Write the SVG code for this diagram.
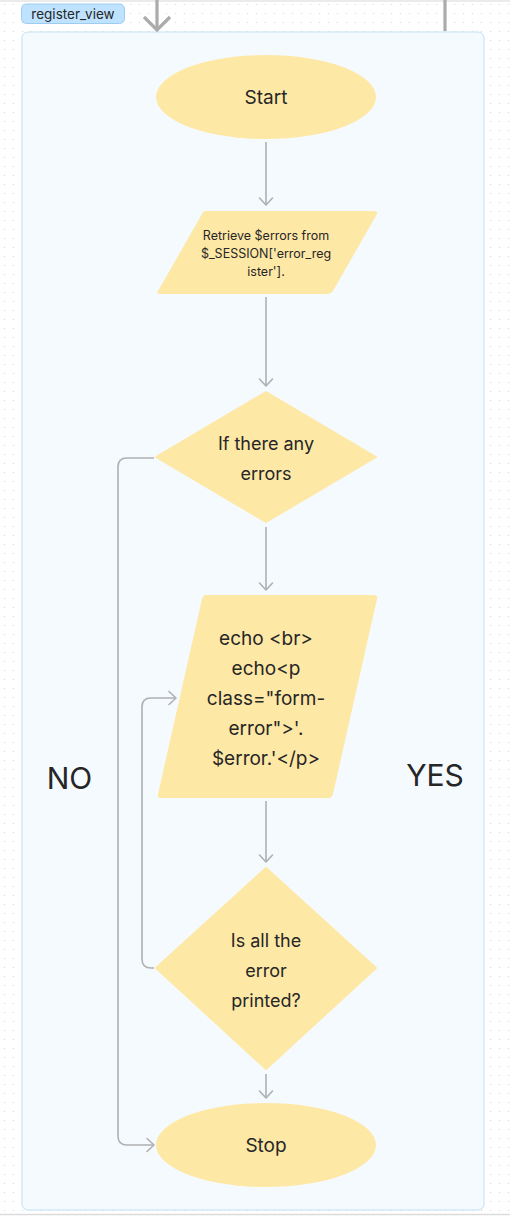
<svg xmlns="http://www.w3.org/2000/svg" width="510" height="1217" viewBox="0 0 510 1217">
<defs>
<pattern id="dots" x="0" y="0" width="9" height="9" patternUnits="userSpaceOnUse">
<circle cx="4.5" cy="4.5" r="0.8" fill="#e2e2e2"/>
</pattern>
<marker id="arr" markerUnits="userSpaceOnUse" markerWidth="18" markerHeight="18" viewBox="-9 -9 18 18" refX="0" refY="0" orient="auto">
<path d="M-7,-6.5 L0,0 L-7,6.5" fill="none" stroke="#b0b0b0" stroke-width="1.6" stroke-linecap="round" stroke-linejoin="round"/>
</marker>
<marker id="arrBig" markerUnits="userSpaceOnUse" markerWidth="34" markerHeight="34" viewBox="-17 -17 34 34" refX="0" refY="0" orient="auto">
<path d="M-13,-13 L0,0 L-13,13" fill="none" stroke="#ababab" stroke-width="3.2" stroke-linejoin="miter"/>
</marker>
</defs>
<style>
.node{fill:#fee8a6;}
.t{font-family:Inter,"Noto Sans","Liberation Sans",sans-serif;fill:#262626;text-anchor:middle;}
.conn{fill:none;stroke:#b0b0b0;stroke-width:1.6;}
</style>
<rect x="0" y="0" width="510" height="1217" fill="#ffffff"/>
<rect x="0" y="0" width="510" height="1217" fill="url(#dots)"/>
<line x1="0" y1="1" x2="510" y2="1" stroke="#e4e4e4" stroke-width="1.5"/>
<line x1="0" y1="1214.5" x2="510" y2="1214.5" stroke="#dcdcdc" stroke-width="1.5"/>

<g id="frame">
<rect x="22" y="32" width="462" height="1178" rx="6" fill="#f5faff" stroke="#bfe0f7" stroke-width="1"/>
</g>
<g id="frame-label">
<rect x="21.5" y="4" width="103" height="19.5" rx="5" fill="#bfe3ff" stroke="#9ccdf0" stroke-width="1"/>
<text class="t" x="73" y="18.5" font-size="13.5" fill="#141414">register_view</text>
</g>

<g id="connectors">
<line x1="157" y1="0" x2="157" y2="30" stroke="#ababab" stroke-width="3.2" marker-end="url(#arrBig)"/>
<line x1="445" y1="0" x2="445" y2="31" stroke="#ababab" stroke-width="3.2"/>
<line class="conn" x1="266" y1="142" x2="266" y2="205" marker-end="url(#arr)"/>
<line class="conn" x1="266" y1="297" x2="266" y2="386" marker-end="url(#arr)"/>
<line class="conn" x1="266" y1="527" x2="266" y2="590" marker-end="url(#arr)"/>
<line class="conn" x1="266" y1="801" x2="266" y2="862" marker-end="url(#arr)"/>
<line class="conn" x1="266" y1="1074" x2="266" y2="1098" marker-end="url(#arr)"/>
<path class="conn" d="M154,458 H127 Q118,458 118,467 V1136 Q118,1145 127,1145 H154" marker-end="url(#arr)"/>
<path class="conn" d="M154,968 H151 Q142,968 142,959 V707 Q142,698 151,698 H176" marker-end="url(#arr)"/>
</g>

<g id="start">
<ellipse class="node" cx="266" cy="97" rx="110" ry="42"/>
<text class="t" x="266" y="104" font-size="19">Start</text>
</g>

<g id="retrieve">
<path class="node" d="M206,211 H374 Q378,211 377,214 L333,291 Q331,294 327,294 H160 Q156,294 158,291 L202,214 Q203,211 206,211 Z"/>
<text class="t" font-size="12.5"><tspan x="266" y="239.5">Retrieve $errors from</tspan><tspan x="266" y="257.5">$_SESSION['error_reg</tspan><tspan x="266" y="275.5">ister'].</tspan></text>
</g>

<g id="decision-errors">
<path class="node" d="M266,392 L376,457 L266,522 L156,457 Z" stroke="#fee8a6" stroke-width="2" stroke-linejoin="round"/>
<text class="t" font-size="18"><tspan x="266" y="449.5">If there any</tspan><tspan x="266" y="479.5">errors</tspan></text>
</g>

<g id="echo">
<path class="node" d="M206,595 H374 Q378,595 377,599 L333,794 Q332,798 328,798 H161 Q157,798 158,794 L202,599 Q203,595 206,595 Z"/>
<text class="t" font-size="19"><tspan x="266" y="645">echo &lt;br&gt;</tspan><tspan x="266" y="675">echo&lt;p</tspan><tspan x="266" y="705">class="form-</tspan><tspan x="266" y="735">error"&gt;'.</tspan><tspan x="266" y="765">$error.'&lt;/p&gt;</tspan></text>
</g>

<g id="decision-printed">
<path class="node" d="M266,868 L376,968 L266,1069 L156,968 Z" stroke="#fee8a6" stroke-width="2" stroke-linejoin="round"/>
<text class="t" font-size="18"><tspan x="266" y="946.5">Is all the</tspan><tspan x="266" y="976.5">error</tspan><tspan x="266" y="1006.5">printed?</tspan></text>
</g>

<g id="stop">
<ellipse class="node" cx="266" cy="1145" rx="110" ry="42"/>
<text class="t" x="266" y="1152" font-size="19">Stop</text>
</g>

<g id="labels">
<text class="t" x="69.5" y="789" font-size="30" fill="#1a1a1a">NO</text>
<text class="t" x="435" y="786" font-size="30" fill="#1a1a1a">YES</text>
</g>
</svg>
